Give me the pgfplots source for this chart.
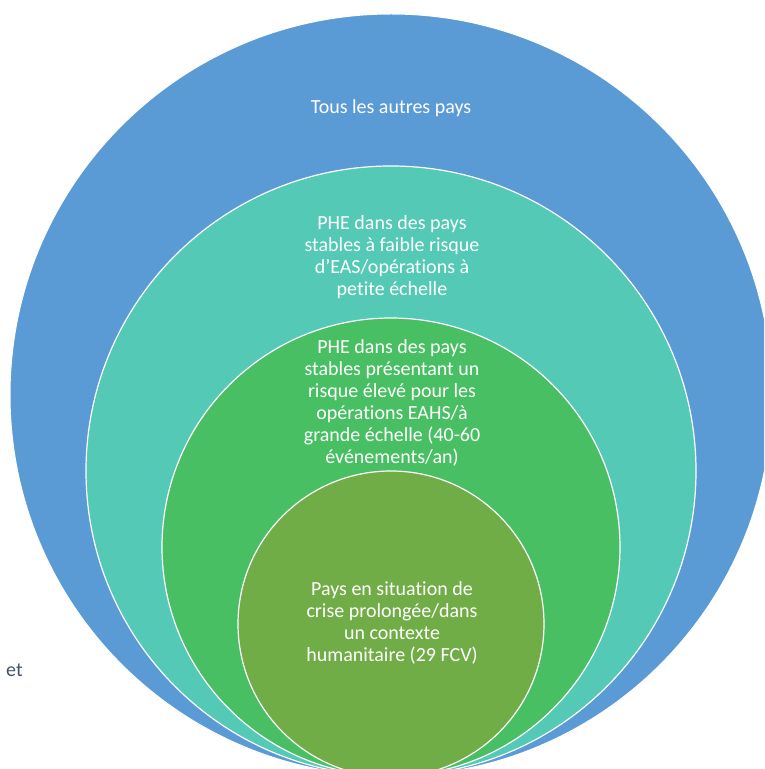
\documentclass[border=0pt]{standalone}
\usepackage{pgfplots}
\pgfplotsset{compat=1.18}
\usepackage{fontspec}
\setmainfont{Carlito}[Ligatures=NoCommon]

\definecolor{ringblue}{HTML}{5B9BD5}
\definecolor{ringteal}{HTML}{53C9B6}
\definecolor{ringgreen}{HTML}{49BF63}
\definecolor{ringolive}{HTML}{70AD47}
\definecolor{navytext}{HTML}{44546A}

\tikzset{lbl/.style={font=\fontsize{20}{22}\selectfont, align=center, text=white, inner sep=0pt}}

% centre x, centre y (y up, 1 unit = 1pt), radius
\pgfplotstableread{
x   y    r
391 374  381
391 298  305
391 222  229
391 145  153
}\rings

\begin{document}
\begin{tikzpicture}[x=1pt,y=1pt]
\useasboundingbox (0,0) rectangle (764,769);
\begin{axis}[
    at={(0,0)}, anchor=origin,
    scale only axis,
    width=764pt, height=769pt,
    xmin=0, xmax=764, ymin=0, ymax=769,
    hide axis,
    clip marker paths=true,
]
    % nested circles, largest first
    \addplot[only marks, mark=*, mark size=381pt,
        mark options={fill=ringblue, draw=white, line width=1pt}]
        table[x=x, y=y, skip coords between index={1}{4}] {\rings};
    \addplot[only marks, mark=*, mark size=305pt,
        mark options={fill=ringteal, draw=white, line width=1.2pt}]
        table[x=x, y=y, skip coords between index={0}{1}, skip coords between index={2}{4}] {\rings};
    \addplot[only marks, mark=*, mark size=229pt,
        mark options={fill=ringgreen, draw=white, line width=1.2pt}]
        table[x=x, y=y, skip coords between index={0}{2}, skip coords between index={3}{4}] {\rings};
    \addplot[only marks, mark=*, mark size=153pt,
        mark options={fill=ringolive, draw=white, line width=1.2pt}]
        table[x=x, y=y, skip coords between index={0}{3}] {\rings};

    \node[lbl] at (axis cs:391,661) {Tous les autres pays};
    \node[lbl] at (axis cs:392,512) {PHE dans des pays\\stables à faible risque\\d’EAS/opérations à\\petite échelle};
    \node[lbl] at (axis cs:392,366) {PHE dans des pays\\stables présentant un\\risque élevé pour les\\opérations EAHS/à\\grande échelle (40-60\\événements/an)};
    \node[lbl] at (axis cs:392,146) {Pays en situation de\\crise prolongée/dans\\un contexte\\humanitaire (29 FCV)};
    \node[lbl, anchor=west, text=navytext] at (axis cs:6,99) {et};
\end{axis}
\end{tikzpicture}
\end{document}
